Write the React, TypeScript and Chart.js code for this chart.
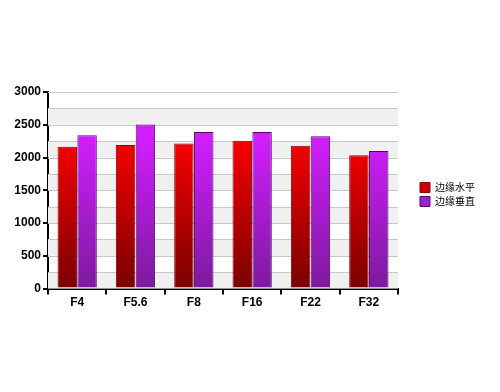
import React, { useEffect, useRef } from "react";
import { Chart, registerables } from "chart.js";

Chart.register(...registerables);

const categories = ["F4", "F5.6", "F8", "F16", "F22", "F32"];
const seriesNames = ["边缘水平", "边缘垂直"];
const horizontalValues = [2165, 2190, 2215, 2255, 2180, 2035];
const verticalValues = [2340, 2505, 2390, 2390, 2325, 2100];
const yMax = 3000;
const yStep = 250;
const yLabelStep = 500;

const bandPlugin = {
  id: "bands",
  afterUpdate(chart: any) {
    const lg = chart.legend;
    if (lg) {
      lg.top -= 7;
      lg.bottom -= 7;
      if (typeof lg.adjustHitBoxes === "function") lg.adjustHitBoxes();
    }
  },
  beforeDatasetsDraw(chart: any) {
    const { ctx, chartArea, scales } = chart;
    const y = scales.y;
    ctx.save();
    for (let v = 0; v < yMax; v += yStep) {
      const idx = Math.floor(v / yStep);
      if (idx % 2 === 0) {
        const top = y.getPixelForValue(v + yStep);
        const bottom = y.getPixelForValue(v);
        ctx.fillStyle = "#f0f0f0";
        ctx.fillRect(chartArea.left, top, chartArea.right - chartArea.left, bottom - top);
      }
    }
    ctx.strokeStyle = "#c8c8c8";
    ctx.lineWidth = 1;
    for (let v = yStep; v <= yMax; v += yStep) {
      const py = Math.round(y.getPixelForValue(v)) + 0.5;
      ctx.beginPath();
      ctx.moveTo(chartArea.left, py);
      ctx.lineTo(chartArea.right, py);
      ctx.stroke();
    }
    ctx.restore();
  },
};

function gradient(chart: any, top: string, bottom: string) {
  const { ctx, chartArea } = chart;
  if (!chartArea) return top;
  const y = chart.scales.y;
  const g = ctx.createLinearGradient(0, y.getPixelForValue(2400), 0, chartArea.bottom);
  g.addColorStop(0, top);
  g.addColorStop(1, bottom);
  return g;
}

export default function App() {
  const ref = useRef<HTMLCanvasElement | null>(null);
  useEffect(() => {
    if (!ref.current) return;
    const font = { family: "Arial, 'Liberation Sans', sans-serif", size: 12, weight: "bold" as const };
    const chart = new Chart(ref.current, {
      type: "bar",
      data: {
        labels: categories,
        datasets: [
          {
            label: seriesNames[0],
            data: horizontalValues,
            backgroundColor: (c: any) => gradient(c.chart, "#ff0000", "#7a0000"),
            borderColor: "#8a0010",
            borderWidth: 1,
            categoryPercentage: 0.68,
            barPercentage: 0.98,
          },
          {
            label: seriesNames[1],
            data: verticalValues,
            backgroundColor: (c: any) => gradient(c.chart, "#d41eff", "#7c1a9e"),
            borderColor: "#4a0a60",
            borderWidth: 1,
            categoryPercentage: 0.68,
            barPercentage: 0.98,
          },
        ],
      },
      options: {
        animation: false,
        responsive: false,
        maintainAspectRatio: false,
        layout: { padding: { top: 92, bottom: 81, left: 10, right: 15 } },
        plugins: {
          tooltip: { enabled: false },
          legend: {
            position: "right",
            align: "center",
            labels: {
              boxWidth: 10,
              boxHeight: 10,
              padding: 4,
              color: "#333",
              font: { family: "'Noto Sans CJK SC', sans-serif", size: 10 },
              generateLabels: (ch: any) =>
                ch.data.datasets.map((d: any, i: number) => ({
                  text: d.label,
                  fillStyle: i === 0 ? "#cc0000" : "#a020d0",
                  strokeStyle: i === 0 ? "#8a0010" : "#4a0a60",
                  lineWidth: 1,
                  datasetIndex: i,
                  hidden: false,
                })),
            },
          },
        },
        scales: {
          x: {
            grid: {
              offset: true,
              drawOnChartArea: false,
              color: "#000",
              tickLength: 6,
              lineWidth: 2,
            },
            border: { color: "#000", width: 2 },
            ticks: { color: "#000", font, padding: 1 },
          },
          y: {
            min: 0,
            max: yMax,
            afterFit: (s: any) => {
              s.width = 38;
            },
            ticks: {
              stepSize: yStep,
              color: "#000",
              font,
              padding: 2,
              autoSkip: false,
              callback: (v: any) => (Number(v) % yLabelStep === 0 ? String(v) : ""),
            },
            grid: {
              drawOnChartArea: false,
              tickLength: 5,
              lineWidth: 2,
              tickColor: (c: any) => (c.tick && c.tick.value % yLabelStep === 0 ? "#000" : "rgba(0,0,0,0)"),
            },
            border: { color: "#000", width: 2 },
          },
          gap: {
            type: "linear",
            position: "right",
            display: true,
            afterFit: (s: any) => {
              s.width = 18;
            },
            ticks: { display: false },
            grid: { display: false },
            border: { display: false },
          },
        },
      },
      plugins: [bandPlugin],
    });
    return () => chart.destroy();
  }, []);
  return (
    <div style={{ position: "absolute", left: 0, top: 0, width: 500, height: 392, background: "#fff" }}>
      <canvas ref={ref} width={500} height={392} />
    </div>
  );
}
